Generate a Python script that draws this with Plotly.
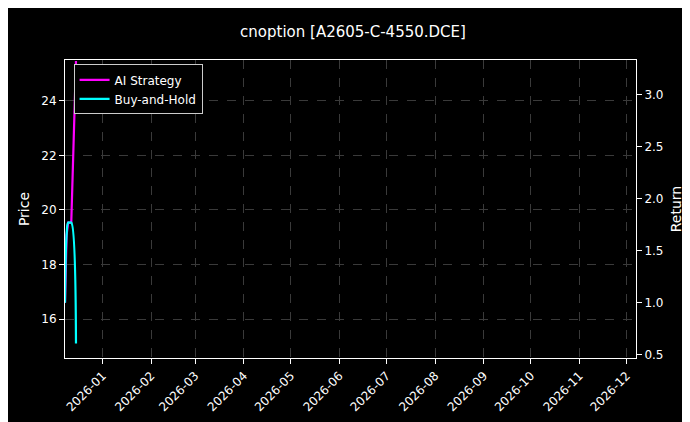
import plotly.graph_objects as go

dates = ["2025-12-08", "2025-12-09", "2025-12-10", "2025-12-11", "2025-12-12", "2025-12-15"]
ai_strategy = [1.0, 1.65, 1.77, 1.77, 1.77, 3.32]
buy_hold = [1.0, 1.65, 1.77, 1.77, 1.77, 0.61]
tick_vals = ["2026-%02d-01" % m for m in range(1, 13)]
tick_text = ["2026-%02d" % m for m in range(1, 13)]

fig = go.Figure()
# transparent anchor so the Price axis is drawn
fig.add_trace(go.Scatter(x=[dates[0]], y=[20], yaxis="y", mode="markers",
                         marker=dict(opacity=0), showlegend=False, hoverinfo="skip"))
fig.add_trace(go.Scatter(x=dates, y=ai_strategy, name="AI Strategy", yaxis="y2",
                         mode="lines", line=dict(color="#ff00ff", width=2.2)))
fig.add_trace(go.Scatter(x=dates, y=buy_hold, name="Buy-and-Hold", yaxis="y2",
                         mode="lines", line=dict(color="#00ffff", width=2.2, shape="spline")))

grid = dict(showgrid=True, gridcolor="#3a3a3a", griddash="dash", gridwidth=0.6)
fig.update_layout(
    width=690, height=422, paper_bgcolor="black", plot_bgcolor="black",
    font=dict(family="DejaVu Sans", color="white", size=12),
    title=dict(text="cnoption [A2605-C-4550.DCE]", x=0.5, y=0.955, xanchor="center", font=dict(size=15)),
    margin=dict(l=57, r=62, t=52, b=72, autoexpand=False),
    xaxis=dict(range=["2025-12-08", "2026-12-07"], tickvals=tick_vals, ticktext=tick_text,
               tickangle=-45, showline=True, linecolor="white", mirror=True, ticks="outside",
               tickcolor="white", zeroline=False, automargin=False, **grid),
    yaxis=dict(title=dict(text="Price", standoff=8), range=[14.57, 25.5], tickvals=[16, 18, 20, 22, 24],
               showline=True, linecolor="white", ticks="outside", tickcolor="white",
               zeroline=False, automargin=False, **grid),
    yaxis2=dict(title=dict(text="Return", standoff=8), overlaying="y", side="right", range=[0.47, 3.33],
                tickvals=[0.5, 1.0, 1.5, 2.0, 2.5, 3.0], ticktext=["0.5", "1.0", "1.5", "2.0", "2.5", "3.0"],
                showline=True, linecolor="white", ticks="outside", tickcolor="white",
                showgrid=False, zeroline=False, automargin=False),
    legend=dict(x=0.015, y=0.985, xanchor="left", yanchor="top", bgcolor="black",
                bordercolor="#ccc", borderwidth=1, font=dict(size=12)),
    showlegend=True,
)
fig.write_html("out.html")
